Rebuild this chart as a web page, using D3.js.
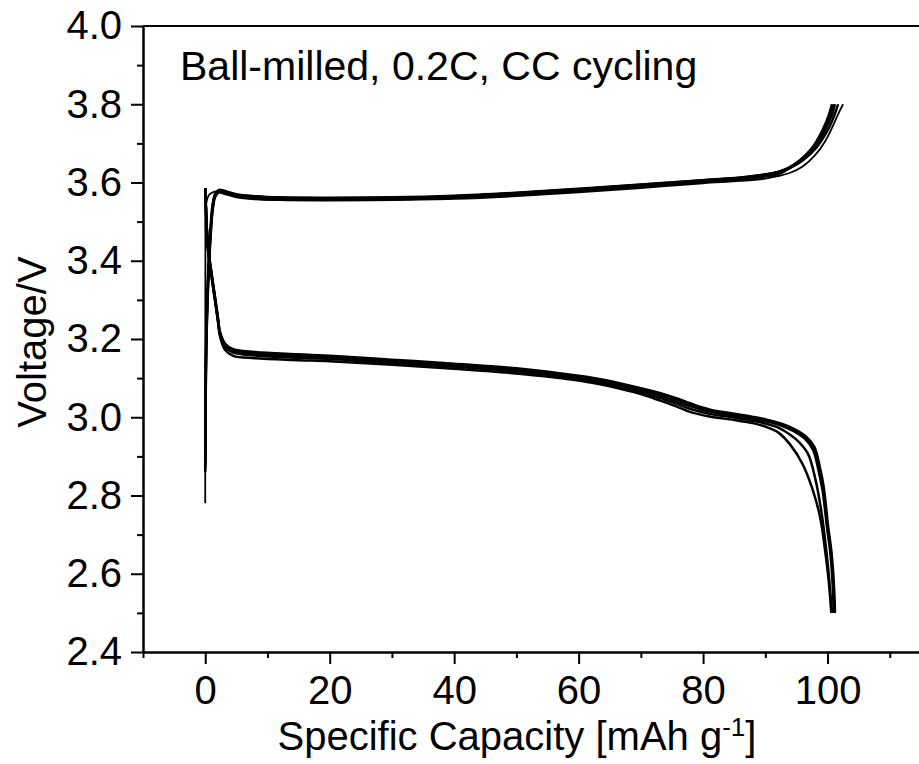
<!DOCTYPE html>
<html>
<head>
<meta charset="utf-8">
<script src="https://cdn.jsdelivr.net/npm/d3@7"></script>
<style>
  body { margin: 0; background: #fff; }
  text { font-family: "Liberation Sans", Arial, sans-serif; fill: #000; }
</style>
</head>
<body>
<svg id="chart"></svg>
<script>
// charge curves, [capacity mAh/g, voltage V]
const charge1 = [[0,2.78],[0.01,3.2],[0.03,3.45],[0.1,3.54],[0.6,3.568],[1.4,3.576],[2.2,3.578],[3,3.574],[5,3.564],[8,3.558],[12,3.555],[20,3.554],[30,3.555],[40,3.558],[50,3.565],[60,3.575],[70,3.586],[80,3.598],[86,3.604],[90,3.61],[92,3.616],[94,3.625],[96,3.641],[98,3.67],[99.6,3.705],[100.9,3.746],[101.8,3.778],[102.5,3.8]];
const charge2 = [[0,2.86],[0.05,2.96],[0.1,3.1],[0.2,3.2],[0.45,3.33],[0.75,3.43],[1.2,3.53],[1.6,3.563],[2.2,3.575],[3,3.572],[5,3.563],[8,3.558],[12,3.556],[20,3.556],[30,3.557],[40,3.561],[50,3.568],[60,3.578],[70,3.589],[80,3.601],[86,3.607],[90,3.615],[92.4,3.623],[94,3.638],[95.6,3.657],[97.6,3.69],[99.2,3.734],[100.2,3.772],[100.7,3.8]];
const charge3 = [[0,2.87],[0.05,2.97],[0.1,3.11],[0.2,3.21],[0.45,3.34],[0.75,3.44],[1.2,3.535],[1.6,3.566],[2.2,3.578],[3,3.576],[5,3.567],[8,3.562],[12,3.559],[20,3.558],[30,3.559],[40,3.563],[50,3.571],[60,3.581],[70,3.592],[80,3.604],[86,3.61],[90,3.618],[92.4,3.626],[94,3.638],[95.8,3.656],[97.9,3.689],[99.6,3.734],[100.7,3.773],[101.2,3.8]];
const charge4 = [[0,2.88],[0.05,2.98],[0.1,3.12],[0.2,3.22],[0.45,3.35],[0.75,3.45],[1.2,3.54],[1.6,3.569],[2.2,3.58],[3,3.578],[5,3.569],[8,3.564],[12,3.561],[20,3.56],[30,3.561],[40,3.565],[50,3.573],[60,3.583],[70,3.594],[80,3.606],[86,3.612],[90,3.62],[92.4,3.628],[94.2,3.639],[96,3.656],[98.2,3.689],[100,3.733],[101.1,3.772],[101.7,3.8]];
const charge5 = [[0,2.89],[0.05,2.99],[0.1,3.13],[0.2,3.23],[0.45,3.36],[0.75,3.46],[1.2,3.545],[1.6,3.571],[2.2,3.581],[3,3.579],[5,3.57],[8,3.565],[12,3.562],[20,3.561],[30,3.562],[40,3.566],[50,3.574],[60,3.584],[70,3.595],[80,3.606],[86,3.613],[90,3.621],[92.4,3.629],[94,3.64],[95.7,3.658],[97.7,3.691],[99.4,3.736],[100.5,3.775],[101.0,3.8]];

// discharge curves
const discharge1 = [[0,3.586],[0.2,3.5],[0.45,3.427],[1,3.36],[1.55,3.3],[2,3.25],[2.4,3.205],[3.2,3.172],[4.5,3.157],[8,3.151],[15,3.146],[20,3.143],[30,3.134],[40,3.124],[50,3.112],[60,3.094],[65,3.079],[70,3.059],[73,3.043],[75.8,3.027],[78,3.013],[81,3.002],[85,2.993],[88,2.985],[90,2.976],[92,2.962],[94,2.93],[96,2.88],[97.5,2.82],[98.8,2.745],[99.6,2.66],[100.2,2.58],[100.6,2.5]];
const discharge2 = [[0,3.586],[0.2,3.5],[0.45,3.43],[1,3.363],[1.55,3.303],[2,3.253],[2.4,3.21],[3.2,3.179],[4.5,3.165],[8,3.158],[15,3.152],[20,3.149],[30,3.139],[40,3.129],[50,3.117],[60,3.098],[65,3.084],[70,3.064],[73,3.05],[75.8,3.034],[78,3.021],[81,3.009],[85,2.999],[88,2.991],[90,2.984],[92,2.974],[94,2.955],[95.5,2.935],[96.9,2.905],[98,2.845],[99,2.76],[99.8,2.66],[100.3,2.58],[100.7,2.5]];
const discharge3 = [[0,3.586],[0.2,3.5],[0.45,3.432],[1,3.365],[1.55,3.305],[2,3.255],[2.4,3.212],[3.2,3.183],[4.5,3.169],[8,3.162],[15,3.156],[20,3.153],[30,3.143],[40,3.133],[50,3.121],[60,3.102],[65,3.088],[70,3.069],[73,3.056],[75.8,3.04],[78,3.028],[81,3.015],[85,3.004],[88,2.996],[90.2,2.989],[92.5,2.979],[94.5,2.965],[96.5,2.943],[97.7,2.916],[98.6,2.86],[99.2,2.813],[99.9,2.72],[100.4,2.66],[100.8,2.58],[101.0,2.5]];
const discharge4 = [[0,3.586],[0.2,3.5],[0.45,3.434],[1,3.367],[1.55,3.307],[2,3.257],[2.4,3.214],[3.2,3.186],[4.5,3.172],[8,3.165],[15,3.159],[20,3.155],[30,3.145],[40,3.135],[50,3.123],[60,3.104],[65,3.091],[70,3.072],[73,3.06],[75.8,3.046],[78,3.033],[81,3.018],[85,3.007],[88,2.999],[90.2,2.992],[92.5,2.982],[94.5,2.968],[96.5,2.947],[97.8,2.921],[98.7,2.866],[99.3,2.816],[100,2.72],[100.5,2.66],[100.9,2.58],[101.1,2.5]];
const discharge5 = [[0,3.586],[0.2,3.5],[0.45,3.436],[1,3.37],[1.55,3.31],[2,3.26],[2.4,3.217],[3.2,3.188],[4.5,3.174],[8,3.167],[15,3.161],[20,3.157],[30,3.147],[40,3.137],[50,3.125],[60,3.106],[65,3.093],[70,3.074],[73,3.062],[75.8,3.048],[78,3.035],[81,3.02],[85,3.009],[88,3.001],[90.2,2.994],[92.5,2.984],[94.5,2.971],[96.6,2.95],[97.9,2.924],[98.8,2.87],[99.4,2.82],[100.1,2.72],[100.6,2.66],[101.0,2.58],[101.2,2.5]];

const curves = [charge1, charge2, charge3, charge4, charge5,
                discharge1, discharge2, discharge3, discharge4, discharge5];

const xMajor = [0, 20, 40, 60, 80, 100];
const xMinor = [-10, 10, 30, 50, 70, 90, 110];
const yMajor = [2.4, 2.6, 2.8, 3.0, 3.2, 3.4, 3.6, 3.8, 4.0];
const yMinor = [2.5, 2.7, 2.9, 3.1, 3.3, 3.5, 3.7, 3.9];

const width = 919, height = 764;
const svg = d3.select('#chart')
    .attr('width', width)
    .attr('height', height);

const xScale = d3.scaleLinear().domain([-10, 115.5]).range([143, 924]);
const yScale = d3.scaleLinear().domain([2.4, 4.0]).range([652, 26]);

const line = d3.line()
    .x(d => xScale(d[0]))
    .y(d => yScale(d[1]))
    .curve(d3.curveCatmullRom.alpha(0.5));

svg.append('g')
    .selectAll('path')
    .data(curves)
    .enter()
    .append('path')
    .attr('d', line)
    .style('fill', 'none')
    .style('stroke', '#000')
    .style('stroke-width', (d, i) => i === 0 ? 1.8 : 2.5)
    .style('stroke-linejoin', 'round');

// axes
const fontSize = 40;
const xAxis = d3.axisBottom(xScale).tickValues(xMajor).tickSize(12).tickSizeOuter(0).tickPadding(12).tickFormat(d3.format('d'));
const xAxisMinor = d3.axisBottom(xScale).tickValues(xMinor).tickSize(6).tickSizeOuter(0).tickFormat('');
const yAxis = d3.axisLeft(yScale).tickValues(yMajor).tickSize(12).tickSizeOuter(0).tickPadding(9).tickFormat(d3.format('.1f'));
const yAxisMinor = d3.axisLeft(yScale).tickValues(yMinor).tickSize(6).tickSizeOuter(0).tickFormat('');

svg.append('g').attr('transform', `translate(0, ${yScale(2.4)})`).call(xAxis);
svg.append('g').attr('transform', `translate(0, ${yScale(2.4)})`).call(xAxisMinor);
svg.append('g').attr('transform', `translate(${xScale(-10)}, 0)`).call(yAxis);
svg.append('g').attr('transform', `translate(${xScale(-10)}, 0)`).call(yAxisMinor);

svg.selectAll('.domain, .tick line').style('stroke', '#000').style('stroke-width', 2);
svg.selectAll('.tick text').style('font-size', fontSize + 'px').style('font-family', '"Liberation Sans", Arial, sans-serif');

// top border
svg.append('line')
    .attr('x1', xScale(-10)).attr('x2', width)
    .attr('y1', yScale(4.0)).attr('y2', yScale(4.0))
    .style('stroke', '#000').style('stroke-width', 2);

// labels
svg.append('text')
    .attr('x', 180).attr('y', 80)
    .style('font-size', '41px')
    .text('Ball-milled, 0.2C, CC cycling');

const xl = svg.append('text')
    .attr('x', 517).attr('y', 750)
    .attr('text-anchor', 'middle')
    .style('font-size', fontSize + 'px');
xl.append('tspan').text('Specific Capacity [mAh g');
xl.append('tspan').attr('dy', -14).style('font-size', '26px').text('-1');
xl.append('tspan').attr('dy', 14).text(']');

svg.append('text')
    .attr('transform', `translate(46, 342) rotate(-90)`)
    .attr('text-anchor', 'middle')
    .style('font-size', fontSize + 'px')
    .text('Voltage/V');
</script>
</body>
</html>
